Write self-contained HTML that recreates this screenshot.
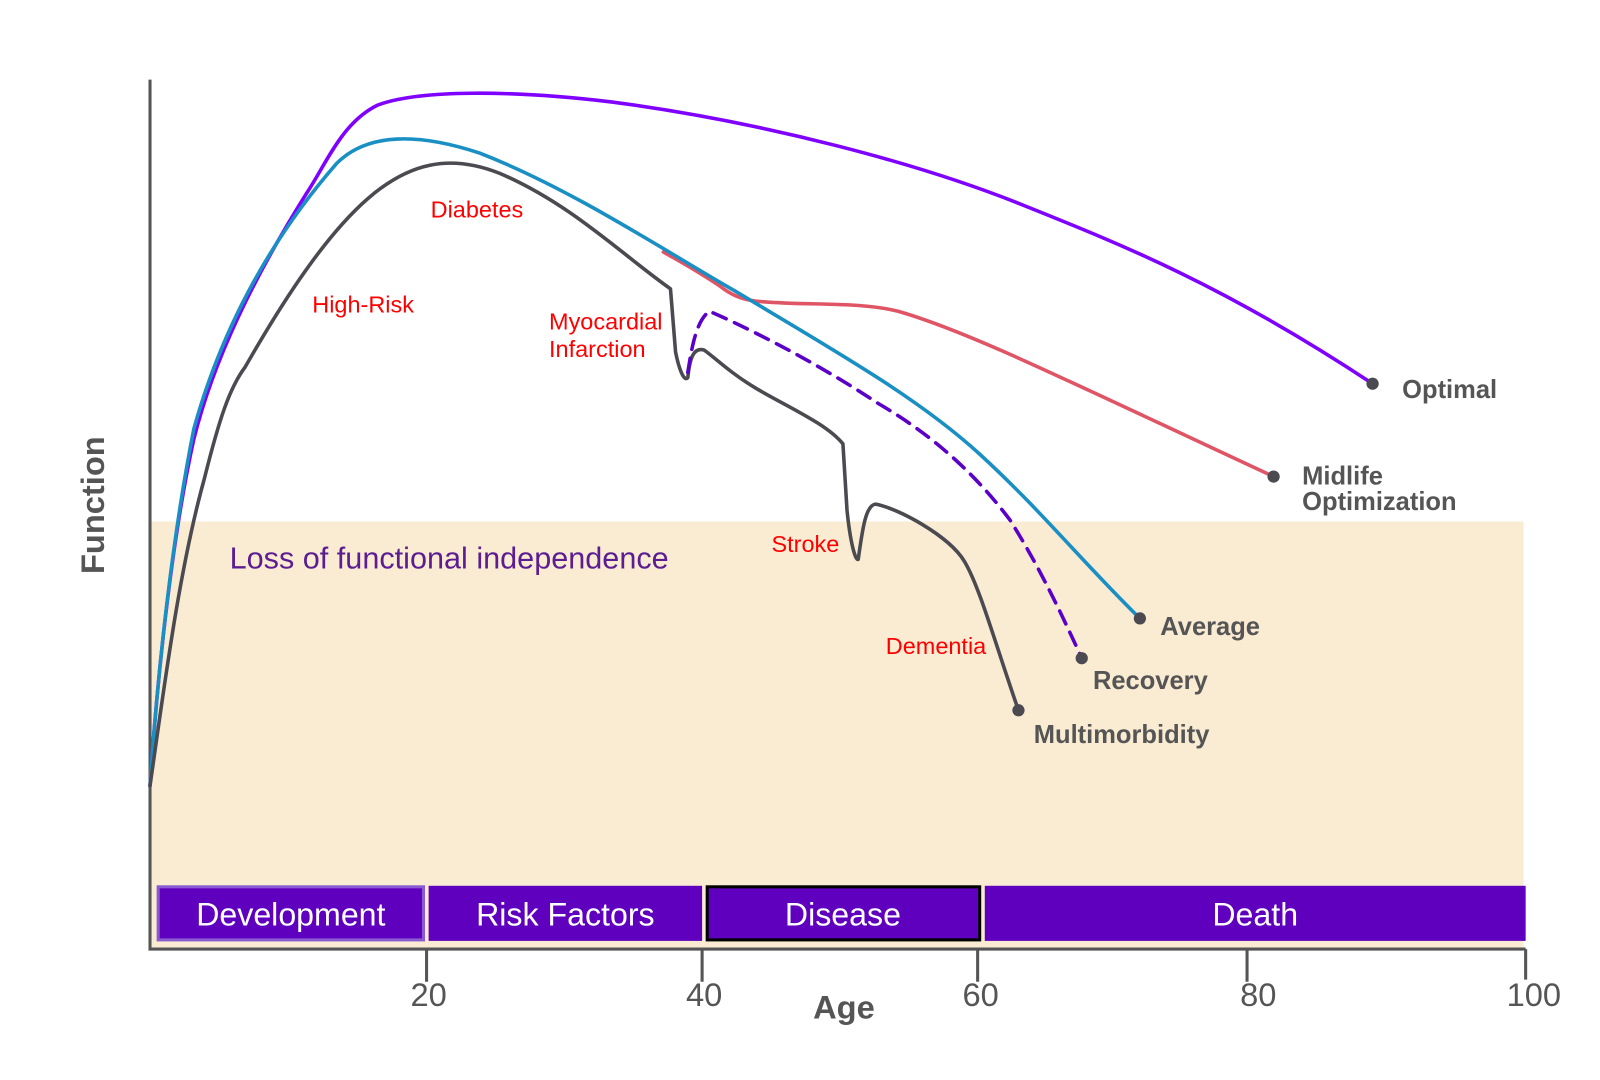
<!DOCTYPE html>
<html><head><meta charset="utf-8"><style>body{margin:0;background:#fff}svg{display:block}</style></head><body>
<svg width="1600" height="1080" viewBox="0 0 1600 1080" xmlns="http://www.w3.org/2000/svg" font-family="Liberation Sans, Arial, sans-serif">
<g transform="scale(1.0205)">
<rect x="147" y="511" width="1346" height="419" fill="#faebd3"/>
<rect x="155" y="869" width="260" height="52" fill="#6000bf" stroke="#8a5ad0" stroke-width="3"/>
<rect x="420" y="868" width="268" height="54" fill="#6000bf"/>
<rect x="693" y="869" width="267" height="52" fill="#6000bf" stroke="#000" stroke-width="3"/>
<rect x="965" y="868" width="530" height="54" fill="#6000bf"/>
<g fill="#fff" font-size="31.5" text-anchor="middle">
<text x="285" y="907">Development</text><text x="554" y="907">Risk Factors</text>
<text x="826" y="907">Disease</text><text x="1230" y="907">Death</text></g>
<g stroke="#555" stroke-width="3" fill="none">
<path d="M147 78V930H1495"/>
<path d="M418 930v32M688 930v32M958 930v32M1222 930v32M1495 930v30"/>
</g>
<g fill="#555" font-size="32" text-anchor="middle">
<text x="420" y="986">20</text><text x="690" y="986">40</text><text x="961" y="986">60</text><text x="1233" y="986">80</text><text x="1503" y="986">100</text>
<text x="827" y="998" font-weight="bold" font-size="32">Age</text>
<text transform="translate(102,495) rotate(-90)" font-weight="bold" font-size="32">Function</text>
</g>
<g fill="none" stroke-width="3.5" stroke-linejoin="round" stroke-linecap="round">
<path stroke="#7f00ff" d="M147 770 C155 650 170 520 190 430 C210 350 250 270 300 190 C320 160 335 120 370 103 C410 88 500 88 600 100 C750 120 900 160 1000 200 C1100 240 1200 280 1345 376"/>
<path stroke="#e05565" d="M650 247 C670 258 690 270 705 280 C715 288 725 293 740 295 C790 300 840 295 880 305 C950 325 1050 375 1248 467"/>
<path stroke="#1a8fc4" d="M147 770 C155 650 170 520 190 420 C215 330 260 240 330 160 C360 130 410 130 470 150 C560 185 650 245 720 285 C820 345 900 390 960 445 C1020 500 1060 550 1117 606"/>
<path stroke="#4a4a50" d="M147 770 C160 680 175 560 200 470 C215 410 225 380 240 360 C280 290 320 230 360 195 C400 160 440 150 490 170 C560 200 610 250 657 283 L662 345 C665 360 670 375 674 370 C676 350 680 340 690 343 C700 350 715 365 740 380 C770 398 810 415 826 435 L830 500 C833 530 838 550 841 548 C845 520 848 495 858 494 C880 498 930 525 945 550 C960 575 975 630 998 696"/>
<path stroke="#5a00c8" stroke-dasharray="14 9" d="M674 365 C678 340 682 315 695 305 C730 320 800 355 860 395 C920 430 960 470 990 510 C1015 550 1035 590 1060 645"/>
</g>
<g fill="#4a4a50"><circle cx="1345" cy="376" r="6"/><circle cx="1248" cy="467" r="6"/><circle cx="1117" cy="606" r="6"/><circle cx="1060" cy="645" r="6"/><circle cx="998" cy="696" r="6"/></g>
<g fill="#555" font-size="25" font-weight="bold">
<text x="1374" y="390">Optimal</text><text x="1276" y="475">Midlife</text><text x="1276" y="500">Optimization</text>
<text x="1137" y="622">Average</text><text x="1071" y="675">Recovery</text><text x="1013" y="728">Multimorbidity</text></g>
<g fill="#f00" font-size="23">
<text x="422" y="213">Diabetes</text><text x="306" y="306">High-Risk</text>
<text x="538" y="323">Myocardial</text><text x="538" y="350">Infarction</text>
<text x="756" y="541">Stroke</text><text x="868" y="641">Dementia</text></g>
<text x="225" y="557" fill="#5b1d91" font-size="30">Loss of functional independence</text>
</g>
</svg></body></html>
